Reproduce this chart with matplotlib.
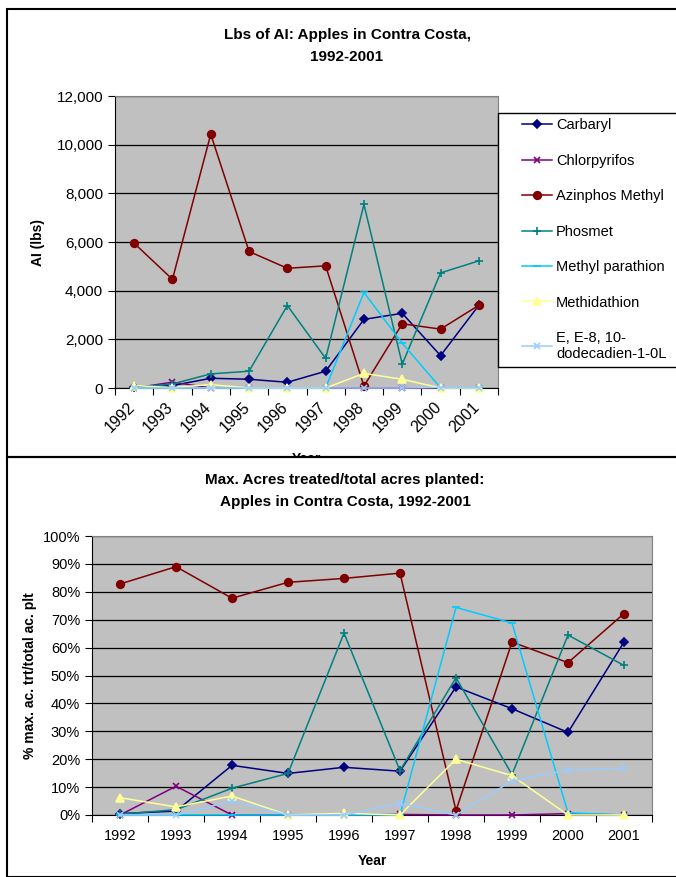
import numpy as np
import matplotlib
matplotlib.use("Agg")
import matplotlib.pyplot as plt
from matplotlib.patches import Rectangle
from matplotlib.transforms import ScaledTranslation
from matplotlib.ticker import FuncFormatter, PercentFormatter

plt.rcParams['font.family'] = ['Liberation Sans', 'DejaVu Sans']

years = [1992, 1993, 1994, 1995, 1996, 1997, 1998, 1999, 2000, 2001]

# pounds of active ingredient
lbs_carbaryl = [30, 100, 400, 360, 235, 690, 2820, 3070, 1330, 3400]
lbs_chlorpyrifos = [0, 240, 0, 0, 0, 0, 0, 0, 10, 0]
lbs_azinphos = [5950, 4465, 10430, 5610, 4920, 5020, 80, 2640, 2420, 3400]
lbs_phosmet = [20, 166, 580, 690, 3390, 1215, 7545, 980, 4730, 5225]
lbs_methyl_parathion = [0, 0, 0, 0, 0, 0, 3925, 1840, 10, 0]
lbs_methidathion = [100, 20, 140, 0, 0, 0, 600, 360, 0, 0]
lbs_eeg = [0, 0, 0, 0, 0, 0, 0, 0, 20, 10]

# max acres treated / total acres planted (%)
pct_carbaryl = [0.5, 1.4, 17.8, 14.9, 17.1, 15.7, 45.9, 38.1, 29.6, 62.0]
pct_chlorpyrifos = [0, 10.3, 0, 0, 0, 0.2, 0, 0, 0.5, 0]
pct_azinphos = [82.8, 89.0, 77.7, 83.4, 84.8, 86.7, 1.6, 62.0, 54.6, 72.2]
pct_phosmet = [0.3, 1.9, 9.6, 14.9, 65.2, 15.9, 49.2, 14.5, 64.5, 53.6]
pct_methyl_parathion = [0, 0, 0, 0, 0, 0, 74.4, 68.8, 0.8, 0]
pct_methidathion = [6.2, 2.9, 6.8, 0, 0.6, 0, 20.0, 14.1, 0, 0]
pct_eeg = [0, 0, 5.0, 0, 0, 4.2, 0, 12.2, 16.1, 16.8]

names = ['Carbaryl', 'Chlorpyrifos', 'Azinphos Methyl', 'Phosmet',
         'Methyl parathion', 'Methidathion', 'E, E-8, 10-\ndodecadien-1-0L']
colors = ['#000080', '#800080', '#800000', '#008080', '#00CCFF', '#FFFF99', '#99CCFF']
markers = ['D', 'x', 'o', '+', '_', '^', 'x']
msizes = [4.5, 4.5, 5.5, 5.5, 6, 5.5, 4.5]

lbs_series = [lbs_carbaryl, lbs_chlorpyrifos, lbs_azinphos, lbs_phosmet,
              lbs_methyl_parathion, lbs_methidathion, lbs_eeg]
pct_series = [pct_carbaryl, pct_chlorpyrifos, pct_azinphos, pct_phosmet,
              pct_methyl_parathion, pct_methidathion, pct_eeg]

W, H = 676, 877
fig = plt.figure(figsize=(W / 100, H / 100), dpi=100)


def fx(px):
    return px / W


def fy(py):
    return 1 - py / H


def style_axes(ax, ysize):
    ax.set_facecolor('#C0C0C0')
    ax.set_xlim(-0.5, len(years) - 0.5)
    ax.set_xticks(np.arange(-0.5, len(years), 1.0))
    ax.set_xticklabels([])
    ax.set_xticks(np.arange(len(years)), minor=True)
    ax.tick_params(axis='x', which='minor', length=0)
    ax.tick_params(axis='x', which='major', length=5, width=0.8, direction='out')
    ax.tick_params(axis='y', length=5, width=0.8, direction='out', labelsize=ysize)
    ax.grid(axis='y', color='black', linewidth=0.9)
    ax.set_axisbelow(True)
    for s in ['top', 'right']:
        ax.spines[s].set_color('#808080')
    for s in ['left', 'bottom']:
        ax.spines[s].set_color('black')


# ---- top chart ----
ax1 = fig.add_axes([fx(115), fy(388), fx(498) - fx(115), fy(96) - fy(388)])
style_axes(ax1, 11)
x = np.arange(len(years))
for vals, n, c, m, ms in zip(lbs_series, names, colors, markers, msizes):
    ax1.plot(x, vals, color=c, marker=m, markersize=ms, linewidth=1.1,
             markeredgewidth=1.2, label=n, clip_on=False, zorder=3)
ax1.set_ylim(0, 12000)
ax1.set_yticks(np.arange(0, 12001, 2000))
ax1.yaxis.set_major_formatter(FuncFormatter(lambda v, p: f'{int(v):,}'))
ax1.set_xticklabels([str(y) for y in years], minor=True, rotation=45,
                    ha='right', rotation_mode='anchor', fontsize=11.5)
ax1.tick_params(axis='x', which='minor', pad=8)
shift = ScaledTranslation(-7 / 100, 0, fig.dpi_scale_trans)
for lab in ax1.get_xticklabels(minor=True):
    lab.set_transform(lab.get_transform() + shift)
ax1.set_ylabel('AI (lbs)', fontsize=10, fontweight='bold', labelpad=8)
# x label sits partly under the lower chart, as in the original
fig.text(fx(306), fy(452), 'Year', ha='center', va='top', fontsize=10,
         fontweight='bold', zorder=1.2)
fig.text(fx(347), fy(35), 'Lbs of AI: Apples in Contra Costa,', ha='center',
         va='center', fontsize=11, fontweight='bold')
fig.text(fx(347), fy(57), '1992-2001', ha='center', va='center',
         fontsize=11, fontweight='bold')

# legend box
fig.patches.append(Rectangle((fx(498), fy(367)), fx(700) - fx(498), fy(113) - fy(367),
                             transform=fig.transFigure, facecolor='white',
                             edgecolor='black', linewidth=1, zorder=1))
handles, labels = ax1.get_legend_handles_labels()
leg = fig.legend(handles, labels, loc='upper left',
                 bbox_to_anchor=(fx(518), fy(114)), frameon=False,
                 fontsize=10.5, labelspacing=1.47, handlelength=2.0,
                 handletextpad=0.3, borderaxespad=0, borderpad=0.3)
leg.set_zorder(2)

# lower chart panel (hides the cut off top 'Year')
fig.patches.append(Rectangle((fx(7), 0), 1, fy(457), transform=fig.transFigure,
                             facecolor='white', edgecolor='black', linewidth=1.5,
                             zorder=1.5))
# outer border of top chart
fig.patches.append(Rectangle((fx(7), fy(457)), 1, fy(9) - fy(457),
                             transform=fig.transFigure, facecolor='none',
                             edgecolor='black', linewidth=1.5, zorder=1.6))

# ---- bottom chart ----
ax2 = fig.add_axes([fx(92), fy(815), fx(652) - fx(92), fy(536) - fy(815)])
ax2.set_zorder(3)
style_axes(ax2, 10.5)
for vals, c, m, ms in zip(pct_series, colors, markers, msizes):
    ax2.plot(x, vals, color=c, marker=m, markersize=ms, linewidth=1.1,
             markeredgewidth=1.2, clip_on=False, zorder=3)
ax2.set_ylim(0, 100)
ax2.set_yticks(np.arange(0, 101, 10))
ax2.yaxis.set_major_formatter(PercentFormatter(decimals=0))
ax2.set_xticklabels([str(y) for y in years], minor=True, fontsize=10.5)
ax2.tick_params(axis='x', which='minor', pad=10)
ax2.set_xlabel('Year', fontsize=10, fontweight='bold', labelpad=8)
ax2.set_ylabel('% max. ac. trt/total ac. plt', fontsize=10, fontweight='bold',
               labelpad=4)
fig.text(fx(345), fy(480), 'Max. Acres treated/total acres planted:', ha='center',
         va='center', fontsize=11, fontweight='bold', zorder=4)
fig.text(fx(345), fy(502), 'Apples in Contra Costa, 1992-2001', ha='center',
         va='center', fontsize=11, fontweight='bold', zorder=4)

fig.savefig('out.png', dpi=100)
